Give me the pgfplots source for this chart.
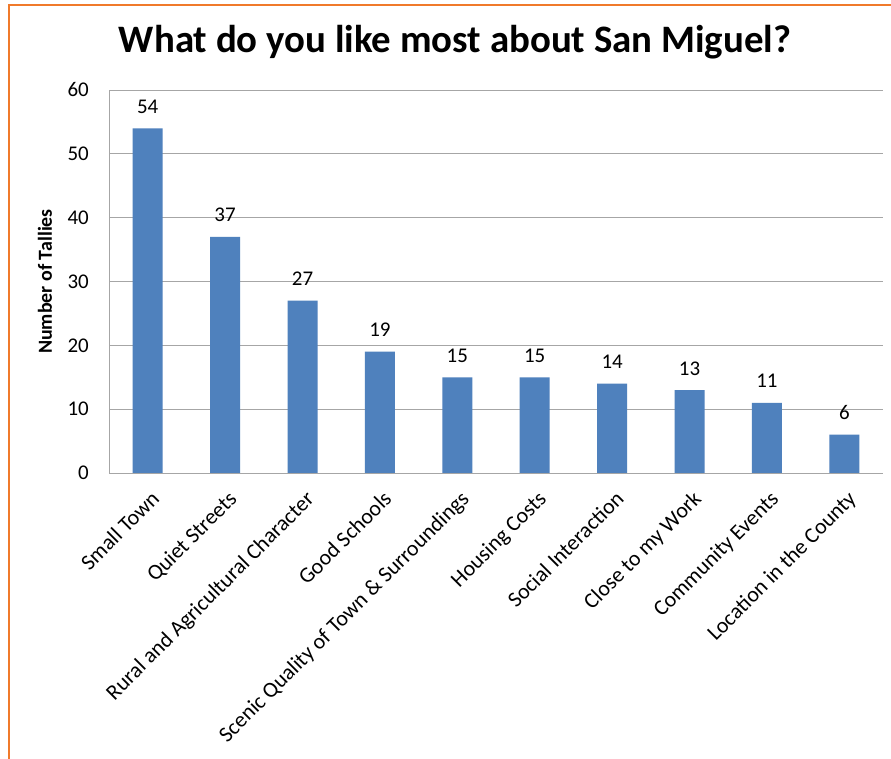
\documentclass[border=0pt]{standalone}
\usepackage{pgfplots}
\pgfplotsset{compat=1.18}
\usepackage{fontspec}
\setmainfont{Carlito}
\definecolor{barblue}{HTML}{4F81BD}
\definecolor{gridgray}{HTML}{A6A6A6}
\definecolor{frameorange}{HTML}{F07A2B}
\begin{document}
\begin{tikzpicture}
\path[use as bounding box] (0bp,0bp) rectangle (891bp,759bp);
\fill[white] (0bp,0bp) rectangle (891bp,759bp);
\draw[frameorange, line width=2.5bp] (9bp,0bp) -- (9bp,754bp) -- (891bp,754bp);
\node[font=\fontsize{39}{44}\selectfont\bfseries] at (455bp,717bp) {What do you like most about San Miguel?};
\begin{axis}[
  at={(109bp,286bp)}, anchor=south west,
  scale only axis, width=774bp, height=383bp,
  ybar, bar width=30bp,
  enlargelimits=false,
  ymin=0, ymax=60, ytick={0,10,...,60},
  xmin=-0.5, xmax=9.5, xtick={0,...,9},
  xticklabels={Small Town, Quiet Streets, Rural and Agricultural Character, Good Schools, Scenic Quality of Town \& Surroundings, Housing Costs, Social Interaction, Close to my Work, Community Events, Location in the County},
  axis x line*=bottom, axis y line*=left,
  axis line style={gridgray, line width=0.8bp},
  ymajorgrids, grid style={gridgray, line width=0.8bp},
  major tick length=0pt,
  /pgf/number format/assume math mode=true,
  yticklabel style={font=\fontsize{21}{24}\selectfont, inner sep=0pt, xshift=-20bp},
  xticklabel style={font=\fontsize{22}{25}\selectfont, rotate=45, anchor=north east, inner sep=0pt, yshift=-13bp, xshift=-10bp},
  ylabel={Number of Tallies},
  ylabel style={font=\fontsize{20}{23}\selectfont\bfseries, at={(axis description cs:-0.0827,0.5)}, anchor=center},
  nodes near coords,
  nodes near coords style={font=\fontsize{21}{24}\selectfont, anchor=base, inner sep=0pt, yshift=15bp},
]
\addplot[fill=barblue, draw=none] coordinates {(0,54) (1,37) (2,27) (3,19) (4,15) (5,15) (6,14) (7,13) (8,11) (9,6)};
\end{axis}
\end{tikzpicture}
\end{document}
